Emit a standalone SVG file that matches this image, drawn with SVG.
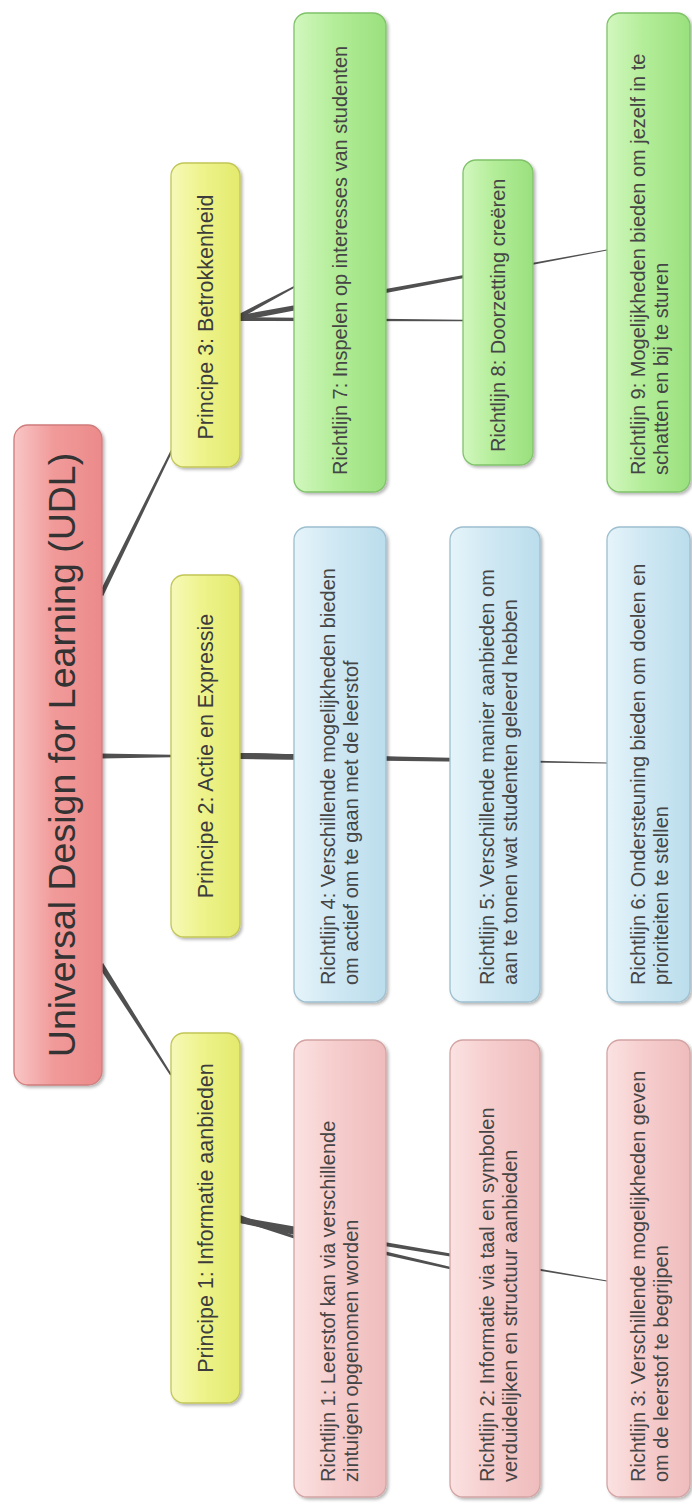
<svg xmlns="http://www.w3.org/2000/svg" width="692" height="1504" viewBox="0 0 692 1504">
<defs>
<linearGradient id="gRoot" x1="0" y1="0" x2="1" y2="0"><stop offset="0" stop-color="#f9c6c6"/><stop offset="0.45" stop-color="#f19a9a"/><stop offset="1" stop-color="#ec8a8a"/></linearGradient>
<linearGradient id="gYel" x1="0" y1="0" x2="1" y2="0"><stop offset="0" stop-color="#f6f9b8"/><stop offset="0.45" stop-color="#eef38c"/><stop offset="1" stop-color="#e3ea6c"/></linearGradient>
<linearGradient id="gPink" x1="0" y1="0" x2="1" y2="0"><stop offset="0" stop-color="#fbe2e2"/><stop offset="0.45" stop-color="#f6cdcd"/><stop offset="1" stop-color="#efbcbc"/></linearGradient>
<linearGradient id="gBlue" x1="0" y1="0" x2="1" y2="0"><stop offset="0" stop-color="#e6f4fa"/><stop offset="0.45" stop-color="#cfe8f3"/><stop offset="1" stop-color="#bbddec"/></linearGradient>
<linearGradient id="gGreen" x1="0" y1="0" x2="1" y2="0"><stop offset="0" stop-color="#d2f7bf"/><stop offset="0.45" stop-color="#b3ed98"/><stop offset="1" stop-color="#9ae07e"/></linearGradient>
<filter id="sh" x="-10%" y="-5%" width="130%" height="115%"><feDropShadow dx="2" dy="2" stdDeviation="1.8" flood-color="#000" flood-opacity="0.28"/></filter>
</defs>
<style>
.box{filter:url(#sh);stroke-width:1.3}
.root{fill:url(#gRoot);stroke:#cf7c7c}
.pr{fill:url(#gYel);stroke:#c2c656}
.pk{fill:url(#gPink);stroke:#d4a4a4}
.bl{fill:url(#gBlue);stroke:#9dbfcf}
.gr{fill:url(#gGreen);stroke:#80c26a}
text{font-family:"Liberation Sans",Arial,sans-serif;fill:#3c3c3c}
.t0{font-size:37.5px;fill:#333}
.t1{font-size:21.5px}
.t2{font-size:20px;fill:#454545}
.c{fill:#505050}
</style>
<g id="connectors">
<polygon class="c" points="98.9,967.0 170.2,1075.5 171.8,1074.5 103.1,963.0"/>
<polygon class="c" points="98.8,593.9 171.1,449.6 172.9,450.4 103.2,596.1"/>
<polygon class="c" points="101,753.6 172,754.8 172,757.2 101,758.4"/>
<polygon class="c" points="240,753 294,754.5 294,758.5 240,759"/>
<polygon class="c" points="240,753 450,757.8 450,760.2 240,759"/>
<polygon class="c" points="240,753 607,762.5 607,763.5 240,759"/>
<polygon class="c" points="240,1215 294,1235.5 294,1238.5 240,1221"/>
<polygon class="c" points="240,1217 450,1266.8 450,1269.2 240,1223"/>
<polygon class="c" points="240,1217 607,1280.5 607,1281.5 240,1223"/>
<polygon class="c" points="240,313.5 294,286 294,288 240,318.5"/>
<polygon class="c" points="240,317 463,319.8 463,321.2 240,321"/>
<polygon class="c" points="240,315 607,249.5 607,250.5 240,321"/>
</g>
<g id="root"><rect class="box root" x="14" y="425" width="88" height="660" rx="14"/>
<text class="t0" text-anchor="middle" transform="translate(75,755) rotate(-90)">Universal Design for Learning (UDL)</text></g>
<g id="p1"><rect class="box pr" x="171" y="1033" width="69" height="370" rx="13"/>
<text class="t1" text-anchor="middle" transform="translate(213,1218) rotate(-90)">Principe 1: Informatie aanbieden</text></g>
<g id="p2"><rect class="box pr" x="171" y="575" width="69" height="362" rx="13"/>
<text class="t1" text-anchor="middle" transform="translate(213,756) rotate(-90)">Principe 2: Actie en Expressie</text></g>
<g id="p3"><rect class="box pr" x="171" y="163" width="69" height="304" rx="13"/>
<text class="t1" text-anchor="middle" transform="translate(213,317) rotate(-90)">Principe 3: Betrokkenheid</text></g>
<g id="r1"><rect class="box pk" x="294" y="1040" width="92" height="457" rx="13"/>
<text class="t2" transform="translate(335,1482) rotate(-90)">Richtlijn 1: Leerstof kan via verschillende<tspan x="0" dy="23">zintuigen opgenomen worden</tspan></text></g>
<g id="r2"><rect class="box pk" x="450" y="1040" width="90" height="457" rx="13"/>
<text class="t2" transform="translate(494,1482) rotate(-90)">Richtlijn 2: Informatie via taal en symbolen<tspan x="0" dy="23">verduidelijken en structuur aanbieden</tspan></text></g>
<g id="r3"><rect class="box pk" x="607" y="1040" width="83" height="457" rx="13"/>
<text class="t2" transform="translate(645,1482) rotate(-90)">Richtlijn 3: Verschillende mogelijkheden geven<tspan x="0" dy="23">om de leerstof te begrijpen</tspan></text></g>
<g id="r4"><rect class="box bl" x="294" y="527" width="92" height="475" rx="13"/>
<text class="t2" transform="translate(335,985) rotate(-90)">Richtlijn 4: Verschillende mogelijkheden bieden<tspan x="0" dy="23">om actief om te gaan met de leerstof</tspan></text></g>
<g id="r5"><rect class="box bl" x="450" y="527" width="90" height="475" rx="13"/>
<text class="t2" transform="translate(494,985) rotate(-90)">Richtlijn 5: Verschillende manier aanbieden om<tspan x="0" dy="23">aan te tonen wat studenten geleerd hebben</tspan></text></g>
<g id="r6"><rect class="box bl" x="607" y="527" width="83" height="475" rx="13"/>
<text class="t2" transform="translate(645,985) rotate(-90)">Richtlijn 6: Ondersteuning bieden om doelen en<tspan x="0" dy="23">prioriteiten te stellen</tspan></text></g>
<g id="r7"><rect class="box gr" x="294" y="13" width="92" height="479" rx="13"/>
<text class="t2" transform="translate(347,475) rotate(-90)">Richtlijn 7: Inspelen op interesses van studenten</text></g>
<g id="r8"><rect class="box gr" x="463" y="160" width="70" height="305" rx="13"/>
<text class="t2" transform="translate(505,452) rotate(-90)">Richtlijn 8: Doorzetting creëren</text></g>
<g id="r9"><rect class="box gr" x="607" y="13" width="83" height="479" rx="13"/>
<text class="t2" transform="translate(645,475) rotate(-90)">Richtlijn 9: Mogelijkheden bieden om jezelf in te<tspan x="0" dy="23">schatten en bij te sturen</tspan></text></g>
</svg>
